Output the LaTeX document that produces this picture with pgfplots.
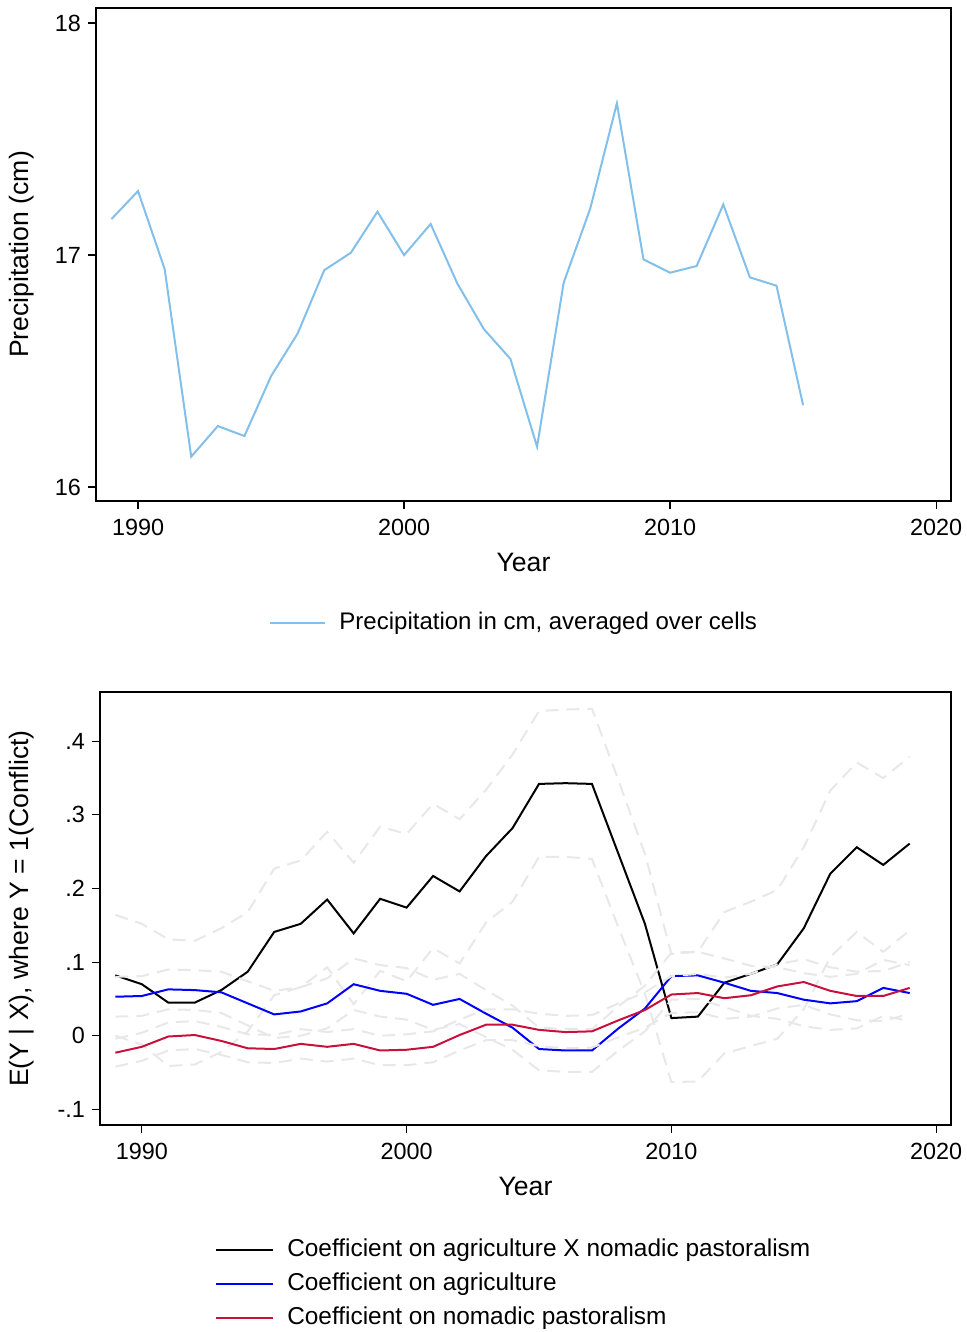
\documentclass[border=0pt]{standalone}
\usepackage{fontspec}
\setmainfont{Liberation Sans}
\usepackage{pgfplots}
\usepackage{pgfplotstable}
\pgfplotsset{compat=1.18}
\definecolor{precip}{RGB}{130,192,235}
\definecolor{cranb}{RGB}{200,16,60}
\definecolor{cigrey}{RGB}{232,232,232}

\pgfplotstableread{
year p
1989 17.155
1990 17.276
1991 16.940
1992 16.131
1993 16.263
1994 16.220
1995 16.478
1996 16.662
1997 16.935
1998 17.010
1999 17.187
2000 17.000
2001 17.134
2002 16.878
2003 16.681
2004 16.552
2005 16.174
2006 16.881
2007 17.201
2008 17.654
2009 16.981
2010 16.924
2011 16.953
2012 17.218
2013 16.904
2014 16.868
2015 16.353
}\precip

\pgfplotstableread{
year b blo bhi a alo ahi n nlo nhi
1989 0.082 0.000 0.164 0.053 0.026 0.080 -0.023 -0.042 -0.004
1990 0.070 -0.012 0.152 0.054 0.027 0.081 -0.015 -0.034 0.004
1991 0.045 -0.041 0.131 0.063 0.036 0.090 -0.001 -0.020 0.018
1992 0.045 -0.039 0.129 0.062 0.035 0.089 0.001 -0.018 0.020
1993 0.062 -0.022 0.146 0.059 0.031 0.087 -0.007 -0.026 0.012
1994 0.087 0.006 0.168 0.044 0.014 0.074 -0.017 -0.036 0.002
1995 0.141 0.055 0.227 0.029 -0.003 0.061 -0.018 -0.037 0.001
1996 0.152 0.066 0.238 0.033 0.000 0.066 -0.011 -0.031 0.009
1997 0.185 0.093 0.277 0.044 0.010 0.078 -0.015 -0.035 0.005
1998 0.139 0.043 0.235 0.070 0.035 0.105 -0.011 -0.031 0.009
1999 0.186 0.088 0.284 0.061 0.026 0.096 -0.020 -0.040 0.000
2000 0.174 0.074 0.274 0.057 0.022 0.092 -0.019 -0.040 0.002
2001 0.217 0.119 0.315 0.042 0.008 0.076 -0.015 -0.036 0.006
2002 0.196 0.098 0.294 0.050 0.016 0.084 0.001 -0.020 0.022
2003 0.244 0.154 0.334 0.030 -0.002 0.062 0.015 -0.006 0.036
2004 0.282 0.182 0.382 0.011 -0.019 0.041 0.015 -0.006 0.036
2005 0.342 0.243 0.441 -0.018 -0.047 0.011 0.008 -0.014 0.030
2006 0.343 0.243 0.443 -0.020 -0.049 0.009 0.005 -0.017 0.027
2007 0.342 0.240 0.444 -0.020 -0.049 0.009 0.006 -0.016 0.028
2008 0.247 0.147 0.347 0.010 -0.020 0.040 0.021 -0.002 0.044
2009 0.152 0.057 0.247 0.037 0.006 0.068 0.035 0.011 0.059
2010 0.024 -0.063 0.111 0.081 0.049 0.113 0.056 0.031 0.081
2011 0.026 -0.062 0.114 0.082 0.050 0.114 0.058 0.032 0.084
2012 0.072 -0.024 0.168 0.072 0.039 0.105 0.051 0.023 0.079
2013 0.084 -0.014 0.182 0.061 0.027 0.095 0.055 0.026 0.084
2014 0.097 -0.004 0.198 0.058 0.023 0.093 0.067 0.037 0.097
2015 0.146 0.036 0.256 0.049 0.013 0.085 0.073 0.042 0.104
2016 0.220 0.107 0.333 0.044 0.008 0.080 0.061 0.029 0.093
2017 0.256 0.141 0.371 0.047 0.010 0.084 0.054 0.021 0.087
2018 0.232 0.114 0.350 0.065 0.027 0.103 0.054 0.020 0.088
2019 0.261 0.143 0.379 0.058 0.020 0.096 0.065 0.030 0.100
}\coef

\begin{document}
\begin{tikzpicture}
\useasboundingbox (0pt,0pt) rectangle (483.5pt,-666pt);
\pgfplotsset{
  every axis/.append style={
    scale only axis,
    axis line style={line width=0.8pt, black},
    tick style={black, line width=0.6pt},
    tick align=outside,
    major tick length=4pt,
    tick pos=left,
    xtick={1990,2000,2010,2020},
    xticklabels={1990,2000,2010,2020},
    xmin=1988.42, xmax=2020.56,
    ticklabel style={font=\fontsize{11.7}{14}\selectfont},
    xticklabel style={yshift=-1.5pt},
    label style={font=\fontsize{13.3}{16}\selectfont},
    legend style={draw=none, fill=none, inner xsep=0pt, inner ysep=0pt,
      font=\fontsize{12}{14}\selectfont,
      nodes={inner xsep=0pt, inner ysep=2.75pt, text height=9pt, text depth=2.5pt},
      /tikz/every odd column/.append style={column sep=6.5pt}},
    legend cell align=left,
  }
}
\begin{axis}[
  at={(48pt,-250.5pt)}, anchor=south west,
  width=427.5pt, height=246.5pt,
  ymin=15.94, ymax=18.065,
  ytick={16,17,18}, yticklabels={16,17,18},
  xlabel={Year}, ylabel={Precipitation (cm)},
  xlabel style={at={(axis description cs:0.5,-0.1237)}, anchor=center},
  ylabel style={at={(axis description cs:-0.0865,0.5)}, anchor=center},
  legend style={at={(axis description cs:0.488,-0.2475)}, anchor=center},
  legend image code/.code={\draw[#1] (0pt,0pt) -- (27.5pt,0pt);},
]
\addplot[precip, line width=1pt] table[x=year, y=p] {\precip};
\addlegendentry{Precipitation in cm, averaged over cells}
\end{axis}

\begin{axis}[
  at={(50pt,-562.5pt)}, anchor=south west,
  width=425.5pt, height=216.5pt,
  ymin=-0.1212, ymax=0.4668,
  ytick={-0.1,0,0.1,0.2,0.3,0.4}, yticklabels={-.1,0,.1,.2,.3,.4},
  xlabel={Year}, ylabel={E(Y | X), where Y = 1(Conflict)},
  xlabel style={at={(axis description cs:0.5,-0.143)}, anchor=center},
  ylabel style={at={(axis description cs:-0.0917,0.5)}, anchor=center},
  legend style={at={(axis description cs:0.135,-0.367)}, anchor=west,
    font=\fontsize{12.2}{14}\selectfont},
  legend image code/.code={\draw[#1] (0pt,0pt) -- (28.5pt,0pt);},
]
\addplot[cigrey, line width=1pt, dash pattern=on 6.5pt off 4pt, forget plot] table[x=year, y=bhi] {\coef};
\addplot[cigrey, line width=1pt, dash pattern=on 6.5pt off 4pt, forget plot] table[x=year, y=blo] {\coef};
\addplot[black, line width=1pt] table[x=year, y=b] {\coef};
\addlegendentry{Coefficient on agriculture X nomadic pastoralism}
\addplot[cigrey, line width=1pt, dash pattern=on 6.5pt off 4pt, forget plot] table[x=year, y=ahi] {\coef};
\addplot[cigrey, line width=1pt, dash pattern=on 6.5pt off 4pt, forget plot] table[x=year, y=alo] {\coef};
\addplot[blue, line width=1pt] table[x=year, y=a] {\coef};
\addlegendentry{Coefficient on agriculture}
\addplot[cigrey, line width=1pt, dash pattern=on 6.5pt off 4pt, forget plot] table[x=year, y=nhi] {\coef};
\addplot[cigrey, line width=1pt, dash pattern=on 6.5pt off 4pt, forget plot] table[x=year, y=nlo] {\coef};
\addplot[cranb, line width=1pt] table[x=year, y=n] {\coef};
\addlegendentry{Coefficient on nomadic pastoralism}
\end{axis}
\end{tikzpicture}
\end{document}
